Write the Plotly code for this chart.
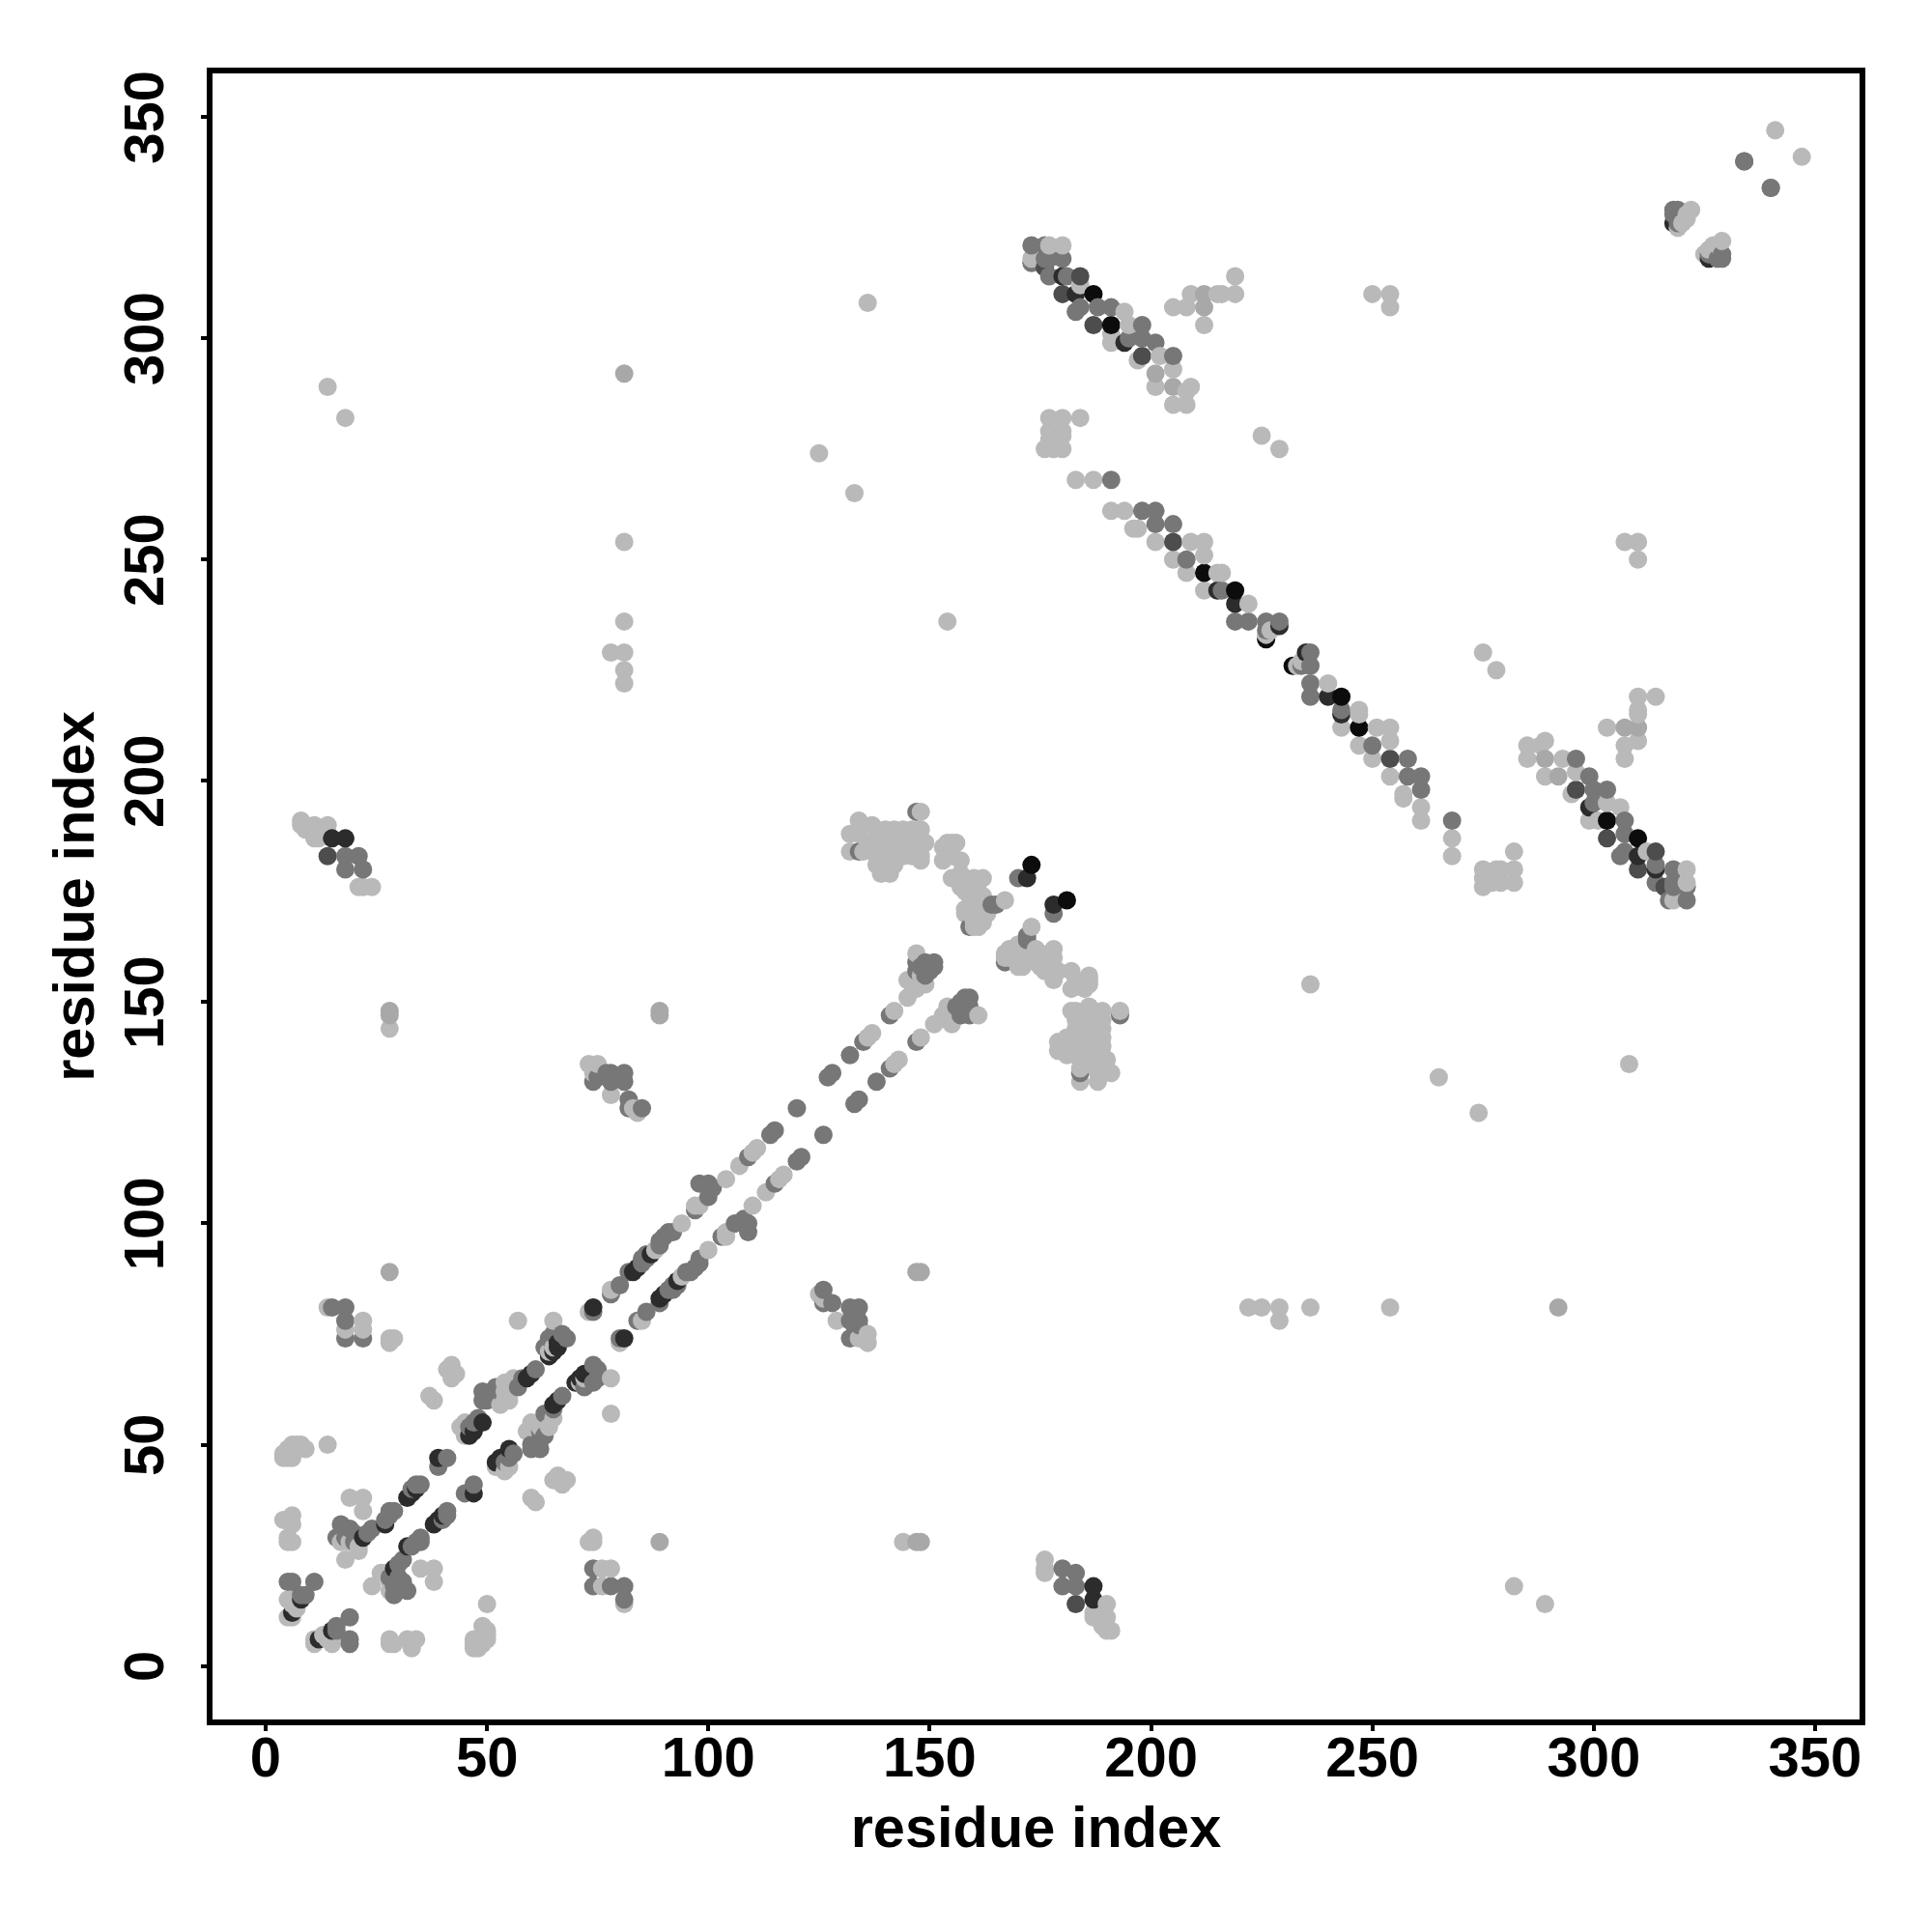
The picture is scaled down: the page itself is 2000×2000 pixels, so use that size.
import numpy as np
import plotly.graph_objects as go

# residue pairs (i, j), i < j, one list per shade; the map is symmetric
light = [(14,289),(18,282),(81,254),(81,236),(78,229),(81,229),(81,225),(81,222),(125,274),(133,265),(136,308),(154,236),
(28,144),(14,50),(4,48),(5,47),(6,47),(6,50),(7,50),(8,50),(9,49),(5,49),(4,47),(4,33),(6,34),(6,32),(5,29),(5,28),(6,28),
(5,11),(5,15),(6,14),(6,15),(7,13),(7,14),(6,11),(19,38),(22,38),(22,35),(18,24),(19,28),(21,27),(17,28),(21,26),
(38,60),(37,61),(42,68),(42,65),(43,66),(41,67),(54,60),(55,60),(56,65),(54,62),(53,59),(54,64),(57,78),(65,78),
(44,54),(45,55),(45,52),(64,71),(65,72),(73,80),(78,85),(88,94),(94,100),(97,104),(98,104),(104,110),(107,113),(110,116),(111,117),
(136,142),(137,143),(142,148),(145,151),(145,155),(146,154),(147,153),(147,161),(148,156),(149,154),
(138,189),(140,189),(142,189),(144,189),(146,189),(148,189),
(138,187),(140,187),(142,187),(144,187),(146,187),(148,187),(149,186),
(138,185),(140,185),(142,185),(144,185),(146,185),(148,185),
(138,183),(140,183),(142,183),(144,183),(146,183),(148,183),(148,182),
(138,181),(140,181),(142,181),(139,180),(141,180),(139,179),(141,179),
(134,191),(132,188),(134,188),(132,184),(135,184),(136,186),(137,190),(148,193),
(154,186),(155,186),(156,186),(153,185),(153,182),(155,183),(157,182),(155,178),(157,179),(158,178),(160,178),(162,178),
(158,175),(160,175),(162,174),(158,171),(160,172),(158,170),(160,168),(161,167),(163,170),(157,176),(159,174),(161,172),(159,170),(161,169),(160,167),(162,168),(161,175),(167,173),
(8,190),(9,189),(11,190),(14,190),(11,187),(12,187),(8,191),(21,176),(22,176),(24,176),(73,136),(75,136),(74,134),(78,129),(84,125),(83,126),
(14,81),(22,78),(22,76),(18,76),(28,73),(28,74),(29,74),
(177,321),(180,321),(173,318),(184,312),(194,306),(195,303),(191,301),(191,299),(197,295),(202,296),(205,293),(201,289),(209,289),(208,288),(205,285),(208,285),
(209,310),(215,310),(216,310),(219,310),(219,314),(205,307),(208,307),(212,303),(254,307),(254,310),(250,310),
(177,282),(180,282),(184,282),(177,279),(180,279),(180,278),(176,275),(180,275),(177,277),(178,275),
(183,268),(187,268),(191,261),(194,261),(197,257),(196,257),(201,254),(209,254),(212,254),(205,250),(212,251),(208,247),(215,247),(216,247),(212,243),(222,240),(227,234),(226,233),
(225,278),(229,275),(319,325),(320,326),(321,327),(321,328),(322,329),(341,347)]

soft = [(81,292),(28,147),(28,148),(28,89),(89,147),(89,148),(201,292),(205,289),(212,310),(212,307)]

mid = [(5,19),(6,19),(11,19),(8,16),(9,16),(17,32),(16,29),(19,31),(18,29),(20,30),(24,31),(23,30),(20,28),(28,35),(27,33),(28,34),(29,35),
(33,40),(34,41),(35,41),(39,45),(41,47),(46,54),(47,55),(48,56),(49,62),(49,60),(51,62),(53,62),(50,60),(52,63),(57,63),(58,65),(61,67),
(63,72),(64,74),(65,75),(67,75),(68,74),(74,80),(78,84),(80,86),(82,89),(85,91),(85,92),(86,92),(86,93),(89,95),(89,96),(90,97),(91,98),(92,98),
(97,103),(100,106),(98,109),(100,109),(101,108),(109,115),(114,120),(115,121),(120,126),(127,133),(128,134),(132,138),(135,141),(141,147),
(147,159),(147,157),(148,158),(149,156),(149,157),(149,159),(150,157),(150,158),(151,158),(151,159),(134,184),(147,193),(159,167),(164,172),(165,172),(170,178),
(15,81),(18,81),(18,78),(18,74),(22,74),(18,183),(21,183),(18,180),(22,180),
(74,132),(77,134),(78,134),(81,134),(81,132),(78,132),(75,133),(82,128),(82,126),(85,126),
(173,321),(176,321),(173,317),(176,318),(177,318),(180,318),(177,314),(181,314),(183,306),(184,307),(188,307),(191,307),(198,303),(195,300),(198,300),(201,299),(205,296),
(191,268),(198,261),(201,261),(201,258),(205,258),(208,250),(216,243),(219,236),(222,236),(226,236),(229,236),(226,234),
(318,328),(318,329),(319,329),(319,326),(334,340),(340,334)]

deep = [(184,314),(180,310),(187,303),(198,296),(176,316),(205,254),(14,183)]

dark = [(8,15),(6,12),(22,29),(27,32),(32,38),(33,39),(34,40),(39,47),(47,53),(46,52),(49,55),(59,65),(60,66),(64,70),(65,71),(66,72),(66,73),(74,81),
(83,89),(84,90),(87,93),(15,187),(18,187),(172,178),(180,314),(183,310),(194,299),(215,243),(219,240),(229,235),(318,326)]

black = [(173,181),(187,310),(191,303),(212,247),(219,243),(226,232)]

shades = {"#b9b9b9": light, "#a8a8a8": soft, "#777777": mid, "#4d4d4d": deep, "#2c2c2c": dark, "#0c0c0c": black}
tick_values = [0, 50, 100, 150, 200, 250, 300, 350]
axis_label = "residue index"

i, j, c = [], [], []
for colour, pairs in shades.items():
    for a, b in pairs:
        i.append(a); j.append(b); c.append(colour)
        i.append(b); j.append(a); c.append(colour)
i, j, c = np.array(i), np.array(j), np.array(c)
order = np.lexsort((j, i))

fig = go.Figure(go.Scatter(x=i[order], y=j[order], mode="markers",
                           marker=dict(size=19, color=c[order].tolist(), line=dict(width=0)),
                           showlegend=False, hoverinfo="skip"))

FONT = "Liberation Sans"
title_font = dict(family=FONT, size=59.5, color="black", weight="bold")
axis = dict(tickvals=tick_values, showgrid=False, zeroline=False, showline=True, mirror=True,
            linecolor="black", linewidth=6, ticks="outside", ticklen=6, tickwidth=3.5, tickcolor="black",
            tickfont=dict(family=FONT, size=58, color="black", weight="bold"))
fig.update_layout(width=2000, height=2000, paper_bgcolor="white", plot_bgcolor="white",
                  margin=dict(l=212, r=83, t=68, b=227.5), showlegend=False,
                  xaxis=dict(axis, range=[-12.0, 360.05], ticklabelstandoff=-23,
                             title=dict(text=axis_label, font=title_font, standoff=23)),
                  yaxis=dict(axis, range=[-12.1, 359.85], tickangle=-90, ticklabelstandoff=16, ticklabelshift=9,
                             title=dict(text=axis_label, font=title_font, standoff=1)))
fig.write_html("out.html")
